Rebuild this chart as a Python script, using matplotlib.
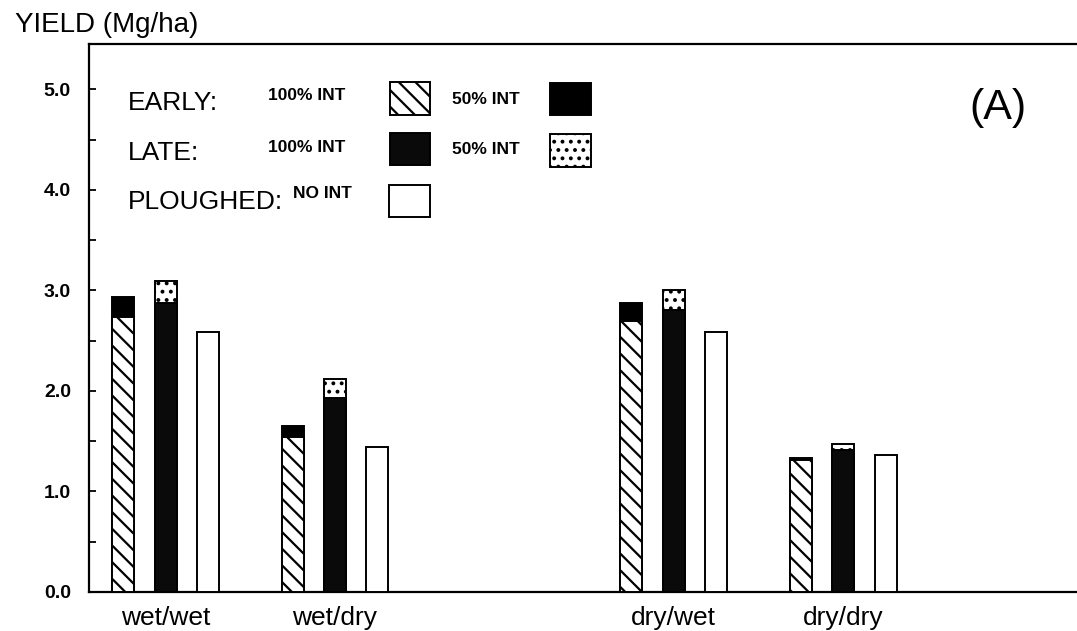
import matplotlib
matplotlib.use("Agg")
import matplotlib.pyplot as plt
from matplotlib.patches import Rectangle
from matplotlib.ticker import MultipleLocator

plt.rcParams['font.family'] = ['Liberation Sans', 'DejaVu Sans']
plt.rcParams['hatch.linewidth'] = 1.6

# yields (Mg/ha) per season sequence
groups = ['wet/wet', 'wet/dry', 'dry/wet', 'dry/dry']
group_pos = [0, 1, 3, 4]
early_100 = [2.73, 1.54, 2.70, 1.31]
early_50 = [2.93, 1.65, 2.87, 1.33]
late_100 = [2.87, 1.93, 2.80, 1.41]
late_50 = [3.09, 2.12, 3.00, 1.47]
ploughed = [2.59, 1.44, 2.59, 1.36]

W, H = 1077, 631
fig = plt.figure(figsize=(W / 100, H / 100), dpi=100)
ax_l, ax_r, ax_b, ax_t = 89, 1077, 592, 44
ax = fig.add_axes([ax_l / W, 1 - ax_b / H, (ax_r - ax_l) / W, (ax_b - ax_t) / H])

bw = 0.13
off = 0.25
lw = 1.4
x_early = [p - off for p in group_pos]
x_late = group_pos
x_plough = [p + off for p in group_pos]

# 50% bars sit behind, 100% bars drawn over them
ax.bar(x_early, early_50, bw, color='black', edgecolor='black', lw=lw, zorder=2)
ax.bar(x_early, early_100, bw, color='white', edgecolor='black', hatch='\\\\', lw=lw, zorder=3)
ax.bar(x_late, late_50, bw, color='white', edgecolor='black', hatch='..', lw=lw, zorder=2)
ax.bar(x_late, late_100, bw, color='#0a0a0a', edgecolor='black', lw=lw, zorder=3)
ax.bar(x_plough, ploughed, bw, color='white', edgecolor='black', lw=lw, zorder=3)

ax.set_xlim(-0.452, 5.38)
ax.set_ylim(0, 5.45)
ax.set_xticks(group_pos)
ax.set_xticklabels(groups, fontsize=19)
ax.tick_params(axis='x', length=0, pad=10)
ax.yaxis.set_major_locator(MultipleLocator(1.0))
ax.yaxis.set_minor_locator(MultipleLocator(0.5))
ax.set_yticks([0, 1, 2, 3, 4, 5])
ax.set_yticklabels(['0.0', '1.0', '2.0', '3.0', '4.0', '5.0'], fontsize=14, fontweight='bold')
ax.tick_params(axis='y', which='both', direction='in', length=5, width=1.3, pad=13)
ax.spines['right'].set_visible(False)
for s in ['left', 'top', 'bottom']:
    ax.spines[s].set_linewidth(1.6)

fig.text(15 / W, 1 - 25 / H, 'YIELD (Mg/ha)', fontsize=20, va='center', ha='left')
fig.text(998 / W, 1 - 108 / H, '(A)', fontsize=31, va='center', ha='center')


def px(x, y):
    return ((x - ax_l) / (ax_r - ax_l), (ax_b - y) / (ax_b - ax_t))


def swatch(x0, y0, x1, y1, **kw):
    (ax0, ay0), (ax1, ay1) = px(x0, y1), px(x1, y0)
    ax.add_patch(Rectangle((ax0, ay0), ax1 - ax0, ay1 - ay0, transform=ax.transAxes,
                           edgecolor='black', lw=lw, clip_on=False, zorder=4, **kw))


def label(x, y, s, size, weight='normal'):
    ax.text(*px(x, y), s, transform=ax.transAxes, fontsize=size, fontweight=weight,
            va='center', ha='left')


label(128, 103, 'EARLY:', 19)
label(128, 153, 'LATE:', 19)
label(128, 202, 'PLOUGHED:', 19)
label(268, 96, '100% INT', 12.5, 'bold')
label(268, 147, '100% INT', 12.5, 'bold')
label(293, 193, 'NO INT', 12.5, 'bold')
label(452, 99, '50% INT', 12.5, 'bold')
label(452, 150, '50% INT', 12.5, 'bold')

swatch(390, 82, 430, 115, facecolor='white', hatch='\\\\')
swatch(550, 83, 591, 115, facecolor='black')
swatch(390, 133, 430, 165, facecolor='#0a0a0a')
swatch(550, 134, 591, 167, facecolor='white', hatch='..')
swatch(389, 185, 430, 217, facecolor='white')

fig.savefig('out.png', dpi=100)
